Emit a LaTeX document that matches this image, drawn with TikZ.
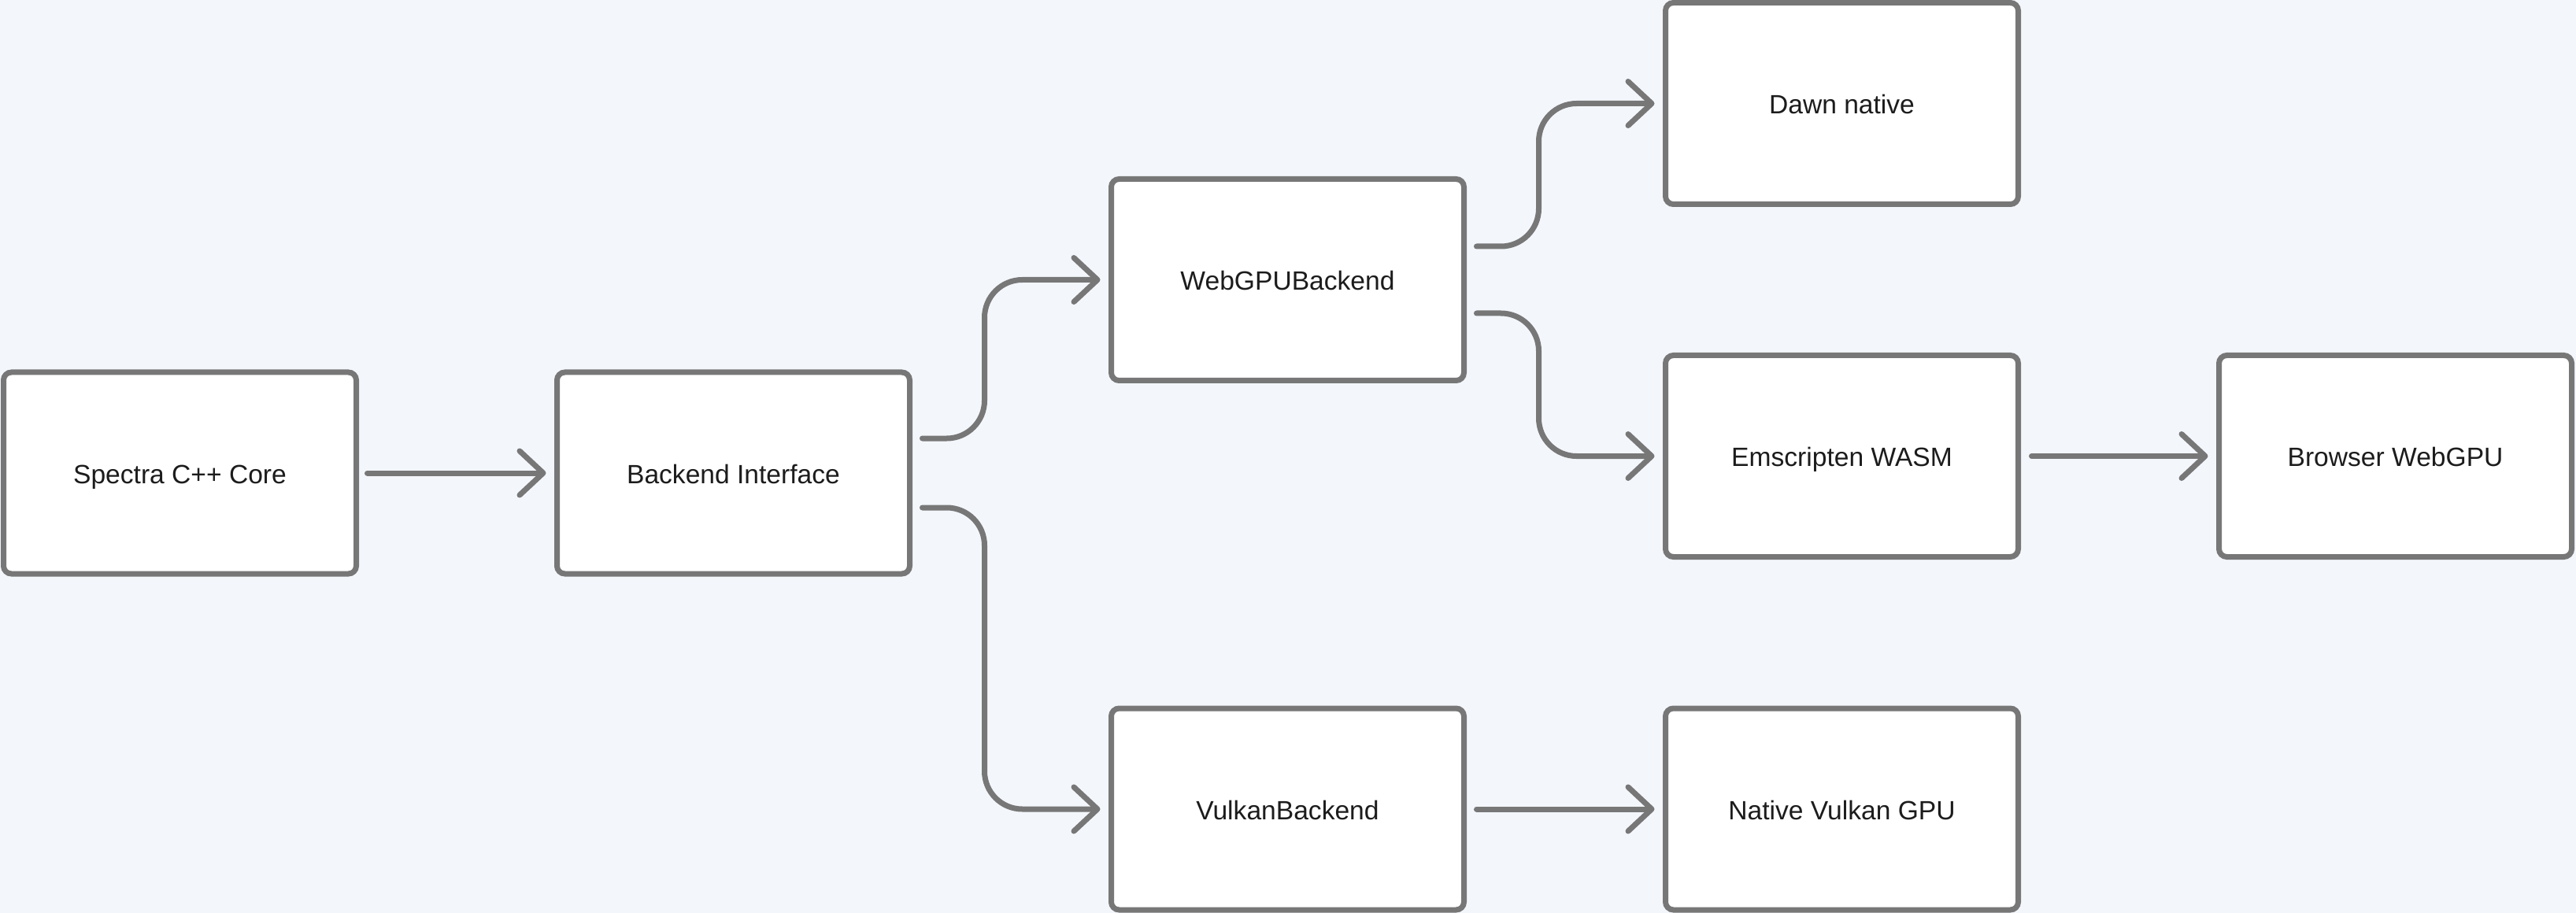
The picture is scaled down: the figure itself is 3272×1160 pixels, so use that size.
\documentclass[tikz,border=0pt]{standalone}
\usepackage{fontspec}
\setmainfont{Liberation Sans}
\usetikzlibrary{arrows.meta}
\definecolor{bgc}{HTML}{F3F6FB}
\definecolor{edgec}{HTML}{777777}
\definecolor{txtc}{HTML}{1C1C1C}
\begin{document}
\begin{tikzpicture}[x=0.5pt,y=-0.5pt,
  box/.style={draw=edgec, line width=3.5pt, fill=white, rounded corners=5pt,
    minimum width=224pt, minimum height=128pt, inner sep=0pt, outer sep=0pt,
    text height=13pt, text depth=0pt,
    text=txtc, font=\fontsize{16.8}{20}\selectfont},
  conn/.style={draw=edgec, line width=3.5pt, line cap=round, line join=round,
    -{Straight Barb[length=15pt,width=28pt,round]}},
  elbow/.style={conn, rounded corners=24pt}]
\fill[bgc] (0,0) rectangle (3272,1160);
\useasboundingbox (0,0) rectangle (3272,1160);

\node[box] (core) at (228.5,601) {Spectra C++ Core};
\node[box] (iface) at (931.5,601) {Backend Interface};
\node[box] (webgpu) at (1635.5,355.5) {WebGPUBackend};
\node[box] (vulkan) at (1635.5,1028) {VulkanBackend};
\node[box] (dawn) at (2339.5,131.5) {Dawn native};
\node[box] (emsc) at (2339.5,579.5) {Emscripten WASM};
\node[box] (browser) at (3042.5,579.5) {Browser WebGPU};
\node[box] (native) at (2339.5,1028) {Native Vulkan GPU};

\draw[conn] ([xshift=7pt]core.east) -- ([xshift=-7pt]iface.west);
\draw[elbow] ([xshift=8pt,yshift=22pt]iface.east) -- ++(39.5pt,0) |- ([xshift=-7pt]webgpu.west);
\draw[elbow] ([xshift=8pt,yshift=-22pt]iface.east) -- ++(39.5pt,0) |- ([xshift=-7pt]vulkan.west);
\draw[elbow] ([xshift=8pt,yshift=21.25pt]webgpu.east) -- ++(39.5pt,0) |- ([xshift=-7pt]dawn.west);
\draw[elbow] ([xshift=8pt,yshift=-21.25pt]webgpu.east) -- ++(39.5pt,0) |- ([xshift=-7pt]emsc.west);
\draw[conn] ([xshift=8.5pt]emsc.east) -- ([xshift=-7pt]browser.west);
\draw[conn] ([xshift=8pt]vulkan.east) -- ([xshift=-7pt]native.west);
\end{tikzpicture}
\end{document}
